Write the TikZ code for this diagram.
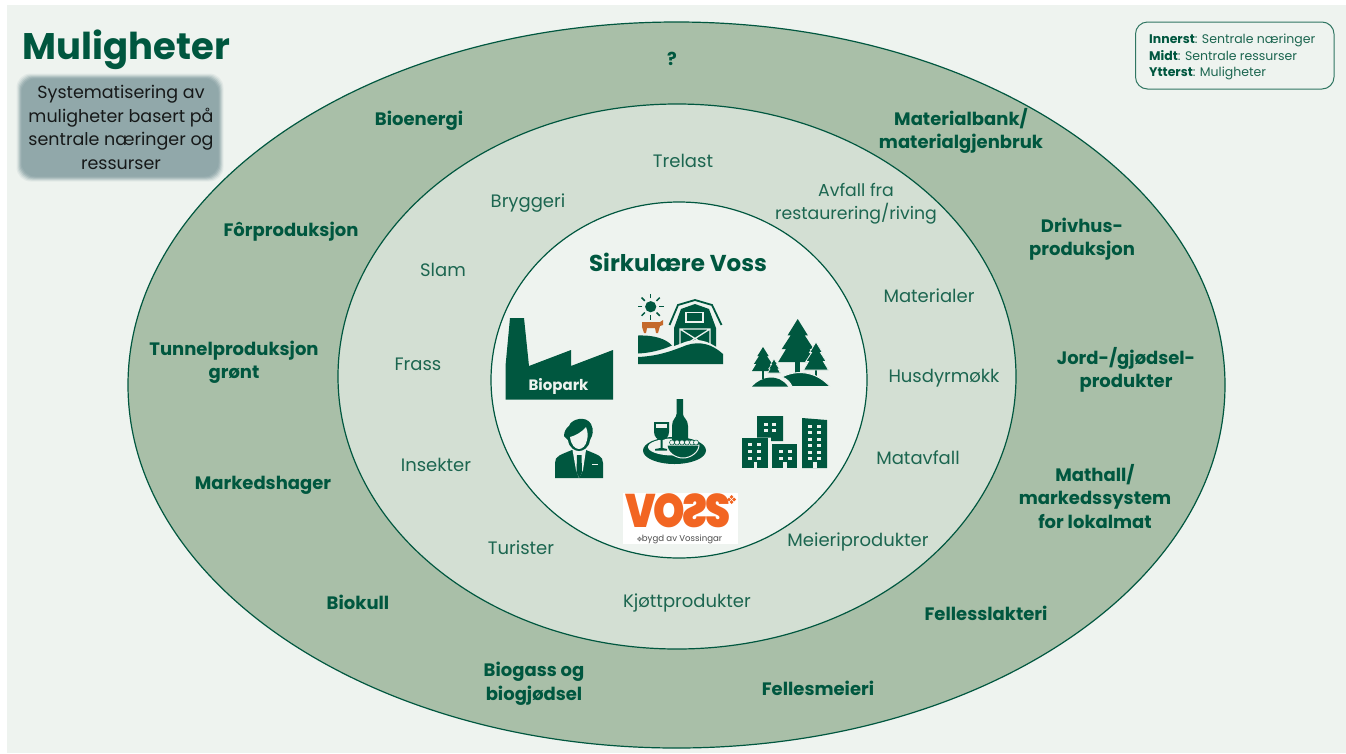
\documentclass[tikz,border=0pt]{standalone}
\usepackage{fontspec}
\setmainfont{Poppins}
\newfontfamily\heavyf{Poppins Black}
\definecolor{panel}{HTML}{EEF3EF}
\definecolor{outerc}{HTML}{A9BFA8}
\definecolor{midc}{HTML}{D3DFD3}
\definecolor{dgreen}{HTML}{00573F}
\definecolor{lgreen}{HTML}{1C6650}
\definecolor{slate}{HTML}{91A8AA}
\definecolor{vosso}{HTML}{F26522}
\definecolor{cowc}{HTML}{C4692B}
\tikzset{
  ring/.style={draw=dgreen,line width=1.2pt},
  boldlab/.style={font=\fontsize{18}{23.5}\selectfont\bfseries,text=dgreen,align=center,inner sep=0pt},
  reglab/.style={font=\fontsize{18}{23.5}\selectfont,text=lgreen,align=center,inner sep=0pt},
  icon/.style={fill=dgreen,draw=none},
  gap/.style={fill=panel,draw=none},
  winb/.style={fill=panel,draw=none},
}
\newcommand\mytree[5]{%
  \begin{scope}[shift={(#1,#2)},x=#3pt,y=-#4pt]
    \path[icon,#5] (-.12,.9) rectangle (.12,1.35);
    \path[icon,#5] (0,0) -- (.52,.38) -- (.36,.38) -- (.82,.7) -- (.6,.7) -- (1,1) -- (-1,1) -- (-.6,.7) -- (-.82,.7) -- (-.36,.38) -- (-.52,.38) -- cycle;
  \end{scope}}
\newcommand\mywin[4]{\path[winb] (#1,#2) rectangle ++(#3,#4);}
\newcommand\mydiamonds[4]{%
  \begin{scope}[shift={(#1,#2)},scale=#4]
    \foreach \dx/\dy in {0/-1,0/1,-1/0,1/0}{
      \path[fill=#3] (\dx*2.6,\dy*2.6-1.9) -- (\dx*2.6+1.9,\dy*2.6) -- (\dx*2.6,\dy*2.6+1.9) -- (\dx*2.6-1.9,\dy*2.6) -- cycle;}
  \end{scope}}
\begin{document}
\begin{tikzpicture}[x=1pt,y=-1pt]
\useasboundingbox (0,0) rectangle (1346,753);
\fill[white] (0,0) rectangle (1346,753);
\fill[panel] (7,5) rectangle (1346,753);
% rings
\draw[ring,fill=outerc] (676.5,385) ellipse [x radius=548.5,y radius=363];
\draw[ring,fill=midc] (677,376.5) ellipse [x radius=339,y radius=272.5];
\draw[ring,fill=panel] (679,380) ellipse [x radius=188,y radius=178];
% title
\node[font=\fontsize{37}{40}\selectfont\bfseries,text=dgreen,inner sep=0pt] (title) at (126.5,50) {Muligheter};
% blurred box
\foreach \k/\op in {5/.12,4/.2,3/.3,2/.45,1/.6,0/1}{
  \fill[slate,opacity=\op,rounded corners=14pt] (17.5+4-\k,74.5+4-\k) rectangle (222.5-4+\k,180.5-4+\k);}
\node[font=\fontsize{17.5}{23.6}\selectfont,text=black!85!slate,align=center,inner sep=0pt] (sub) at (121,127.5) {Systematisering av\\muligheter basert på\\sentrale næringer og\\ressurser};
% legend
\draw[draw=dgreen!80!panel,line width=1pt,rounded corners=12pt] (1135.5,22) rectangle (1334,89);
\node[font=\fontsize{12.5}{16.6}\selectfont,text=lgreen,align=left,anchor=west,inner sep=0pt] (legend) at (1149,57) {{\color{dgreen}\bfseries Innerst}: Sentrale næringer\\{\color{dgreen}\bfseries Midt}: Sentrale ressurser\\{\color{dgreen}\bfseries Ytterst}: Muligheter};
% outer labels
\node[boldlab] (q) at (672,59) {?};
\node[boldlab] (bioenergi) at (419,120.5) {Bioenergi};
\node[boldlab] (materialbank) at (961,131) {Materialbank/\\materialgjenbruk};
\node[boldlab] (drivhus) at (1082,239) {Drivhus-\\produksjon};
\node[boldlab] (for) at (291,232) {Fôrproduksjon};
\node[boldlab] (tunnel) at (234,362.5) {Tunnelproduksjon\\grønt};
\node[boldlab] (jord) at (1126,370) {Jord-/gjødsel-\\produkter};
\node[boldlab] (mathall) at (1095,496.5) {Mathall/\\markedssystem\\for lokalmat};
\node[boldlab] (markedshager) at (263,485) {Markedshager};
\node[boldlab] (biokull) at (358,602.5) {Biokull};
\node[boldlab] (slakteri) at (986,613.5) {Fellesslakteri};
\node[boldlab] (biogass) at (534,684) {Biogass og\\biogjødsel};
\node[boldlab] (meieri) at (818,688.5) {Fellesmeieri};
% middle labels
\node[reglab] (trelast) at (683,161) {Trelast};
\node[reglab] (bryggeri) at (528,203) {Bryggeri};
\node[reglab,font=\fontsize{17.3}{23.5}\selectfont] (avfall) at (856,203.5) {Avfall fra\\restaurering/riving};
\node[reglab] (slam) at (443,270) {Slam};
\node[reglab] (materialer) at (929,296) {Materialer};
\node[reglab] (frass) at (418,364) {Frass};
\node[reglab] (husdyr) at (944,378) {Husdyrmøkk};
\node[reglab] (insekter) at (436,465) {Insekter};
\node[reglab] (matavfall) at (918,458) {Matavfall};
\node[reglab] (turister) at (521,548) {Turister};
\node[reglab] (meieriprod) at (858,542) {Meieriprodukter};
\node[reglab] (kjott) at (687,603) {Kjøttprodukter};
\node[font=\fontsize{23}{26}\selectfont\bfseries,text=dgreen,inner sep=0pt] (sirk) at (678,262) {Sirkulære Voss};
% factory
\path[icon] (510,318) -- (524,318) -- (529,366) -- (571,350) -- (571,366) -- (613,350) -- (613,399.5) -- (505.5,399.5) -- (505.5,366) -- cycle;
\node[font=\fontsize{15}{16}\selectfont\bfseries,text=panel,inner sep=0pt] (biopark) at (558.5,386) {Biopark};
% farm: sun
\fill[dgreen] (650.7,306.7) circle (5.6);
\foreach \a in {0,45,...,315}{\draw[dgreen,line width=1.5pt] (650.7,306.7) ++(\a:8.3) -- ++(\a:4.6);}
% cow
\path[fill=cowc] (642,322) -- (660,322) -- (663,320) -- (663,322) -- (663,325) -- (660,326) -- (658,333) -- (656,333) -- (655,328) -- (647,328) -- (646,333) -- (644,333) -- (642,327) -- cycle;
% barn
\draw[dgreen,line width=1.8pt,fill=none] (669.5,325) -- (678,305) -- (695,300) -- (712,305) -- (721.5,325);
\path[icon] (674,328) -- (681,309) -- (695,304) -- (709,309) -- (716,328) -- (716,350) -- (674,350) -- cycle;
\draw[panel,line width=1.3pt,fill=none] (686,312.5) rectangle (703,322);
\draw[panel,line width=1.3pt,fill=none] (680,329) rectangle (710,348) (680,329) -- (710,348) (710,329) -- (680,348);
% ground
\path[gap] (636,362) -- (636,352) .. controls (660,352) and (672,347) .. (685,342) .. controls (700,337) and (712,342) .. (725,354) -- (725,362) -- cycle;
\path[icon] (638,364) -- (638,357) .. controls (660,356) and (674,350) .. (687,345) .. controls (700,341) and (712,344) .. (723,354) -- (723,364) -- cycle;
\path[icon] (638,335.5) .. controls (655,335) and (666,339) .. (672,345.5) .. controls (662,350) and (650,353) .. (638,353.5) -- cycle;
% trees
\mytree{797.7}{319}{19.5}{43}{}
\mytree{816}{342}{12.5}{28}{draw=panel,line width=.8pt}
\mytree{763}{347}{11}{24}{}
\mytree{774}{359}{6.5}{14}{draw=panel,line width=.6pt}
\path[icon,draw=panel,line width=1pt] (782,377) .. controls (795,370) and (815,370) .. (830,386.5) -- (792,386.5) .. controls (790,382) and (787,379) .. (782,377) -- cycle;
\path[icon] (752,386.5) .. controls (762,376) and (778,373) .. (788,386.5) -- cycle;
% person
\path[icon] (555,478) -- (555,463) .. controls (555,456) and (560,455) .. (572,450) -- (586,450) .. controls (598,455) and (603,456) .. (603,463) -- (603,478) -- cycle;
\path[gap] (572.5,450) -- (586,450) -- (583,470) -- (579,478) -- (576,470) -- cycle;
\path[icon] (577,455) -- (581.5,455) -- (582,472) -- (579.3,478) -- (576.5,472) -- cycle;
\path[gap] (592,463.5) rectangle (598,465);
\path[icon] (569,426) .. controls (571,419) and (586,415) .. (591,424) .. controls (594,430) and (593,435) .. (590,440) .. controls (589,448) and (583,451) .. (579,451) .. controls (575,451) and (569,448) .. (568,440) -- (564,436) .. controls (564,432) and (566,428) .. (569,426) -- cycle;
\path[gap] (570,437) .. controls (575,436) and (582,432) .. (586,427) .. controls (588,432) and (588,436) .. (587,440) .. controls (586,446) and (582,449) .. (579,449) .. controls (575,449) and (571,445) .. (570,437) -- cycle;
% tray
\fill[dgreen] (674.5,450.5) ellipse [x radius=31.5,y radius=13.5];
\fill[panel] (673,447) ellipse [x radius=25,y radius=8.5];
% bottle
\path[icon] (676.5,399) -- (683,399) -- (683,414) .. controls (683,418) and (688,419) .. (688,426) -- (688,444) -- (672,444) -- (672,426) .. controls (672,419) and (676.5,418) .. (676.5,414) -- cycle;
% glass
\path[icon] (654,422) -- (669,422) -- (669,432) .. controls (669,437) and (665,440) .. (662.5,440) -- (662.5,448) -- (667,449) -- (667,450.5) -- (655,450.5) -- (655,449) -- (660.5,448) -- (660.5,440) .. controls (658,440) and (654,437) .. (654,432) -- cycle;
\path[gap] (656,424) rectangle (667,428);
% bowl
\path[fill=dgreen,draw=panel,line width=1pt] (667,445) -- (699,445) .. controls (699,452) and (691,458) .. (683,458) .. controls (675,458) and (667,452) .. (667,445) -- cycle;
\foreach \fx in {672,677,682,687,692,696}{\path[fill=panel,draw=dgreen,line width=.5pt] (\fx,442.5) circle (2.5);}
% buildings
\path[icon] (742,438) rectangle (768,468);
\path[icon] (757,416) -- (783,416) -- (783,441) -- (771,441) -- (771,437.5) -- (757,437.5) -- cycle;
\path[icon] (772,444) rectangle (797,468);
\path[icon] (802,418) -- (827,420) -- (827,468) -- (802,468) -- cycle;
\foreach \wy in {443,450,457}{\mywin{748}{\wy}{4}{3}\mywin{756.5}{\wy}{4}{3}}
\path[gap] (753.5,462) rectangle (757,468);
\foreach \wy in {422.5,429}{\mywin{763.5}{\wy}{4}{3}\mywin{772}{\wy}{4}{3}}
\foreach \wy in {450,457}{\mywin{779}{\wy}{4}{3}\mywin{787.5}{\wy}{4}{3}}
\path[gap] (783,462) rectangle (786.5,468);
\foreach \wy in {424.5,431,437.5,444,450.5,457}{\mywin{808}{\wy}{4}{3}\mywin{817}{\wy}{4}{3}}
\path[gap] (813,462) rectangle (816.5,468);
% logo
\fill[white] (623,493) rectangle (738,544);
\node[font=\heavyf\fontsize{47}{47}\selectfont,text=vosso,inner sep=0pt,anchor=center] (vosslogo) at (678,511) {\scalebox{.85}[1]{V\kern-.06em O\kern-.06em\reflectbox{S}\kern-.04em S}};
\mydiamonds{731.5}{499.5}{vosso}{1}
\mydiamonds{639.5}{539}{black!55}{.55}
\node[font=\fontsize{8.6}{10}\selectfont,text=black!70,inner sep=0pt] (bygd) at (682,539) {bygd av Vossingar};
\end{tikzpicture}
\end{document}
